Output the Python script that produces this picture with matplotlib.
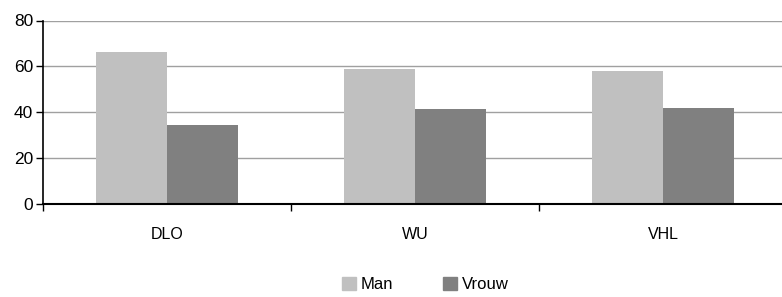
import matplotlib
matplotlib.use("Agg")
import matplotlib.pyplot as plt
from matplotlib.patches import Patch
import numpy as np

plt.rcParams['font.family'] = ['Liberation Sans', 'DejaVu Sans']

categories = ["DLO", "WU", "VHL"]
man = [66.2, 58.8, 57.9]
vrouw = [34.3, 41.3, 41.7]
yticks = [0, 20, 40, 60, 80]

c_man = "#c0c0c0"
c_vrouw = "#808080"

fig = plt.figure(figsize=(7.82, 2.97), dpi=100)
ax = fig.add_axes([43/782, 93.5/297, 744/782, 183/297])

x = np.arange(len(categories))
w = 0.286
ax.bar(x - w/2, man, width=w, color=c_man, zorder=2)
ax.bar(x + w/2, vrouw, width=w, color=c_vrouw, zorder=2)

ax.set_xlim(-0.5, 2.5)
ax.set_ylim(0, 80)
ax.set_yticks(yticks)
ax.grid(axis="y", color="#a0a0a0", linewidth=1.0, zorder=0)
ax.set_axisbelow(True)

# category boundaries as ticks, labels in the middle
ax.set_xticks([-0.5, 0.5, 1.5, 2.5])
ax.set_xticklabels([])
ax.set_xticks(x, minor=True)
ax.set_xticklabels(categories, minor=True)
ax.tick_params(axis="x", which="minor", length=0, pad=17, labelsize=11.5)
ax.tick_params(axis="x", which="major", length=5, width=1, direction="out")
ax.tick_params(axis="y", length=5, width=1, direction="out", labelsize=12.5, pad=2)

for s in ["top", "right"]:
    ax.spines[s].set_visible(False)
ax.spines["left"].set_linewidth(1.2)
ax.spines["bottom"].set_linewidth(1.5)

handles = [Patch(color=c_man, label="Man"), Patch(color=c_vrouw, label="Vrouw")]
fig.legend(handles=handles, loc="center", bbox_to_anchor=(0.544, 0.042), ncol=2,
           frameon=False, fontsize=12, handlelength=0.8, handleheight=0.8,
           handletextpad=0.3, columnspacing=3.0)

fig.savefig("out.png", dpi=100)
